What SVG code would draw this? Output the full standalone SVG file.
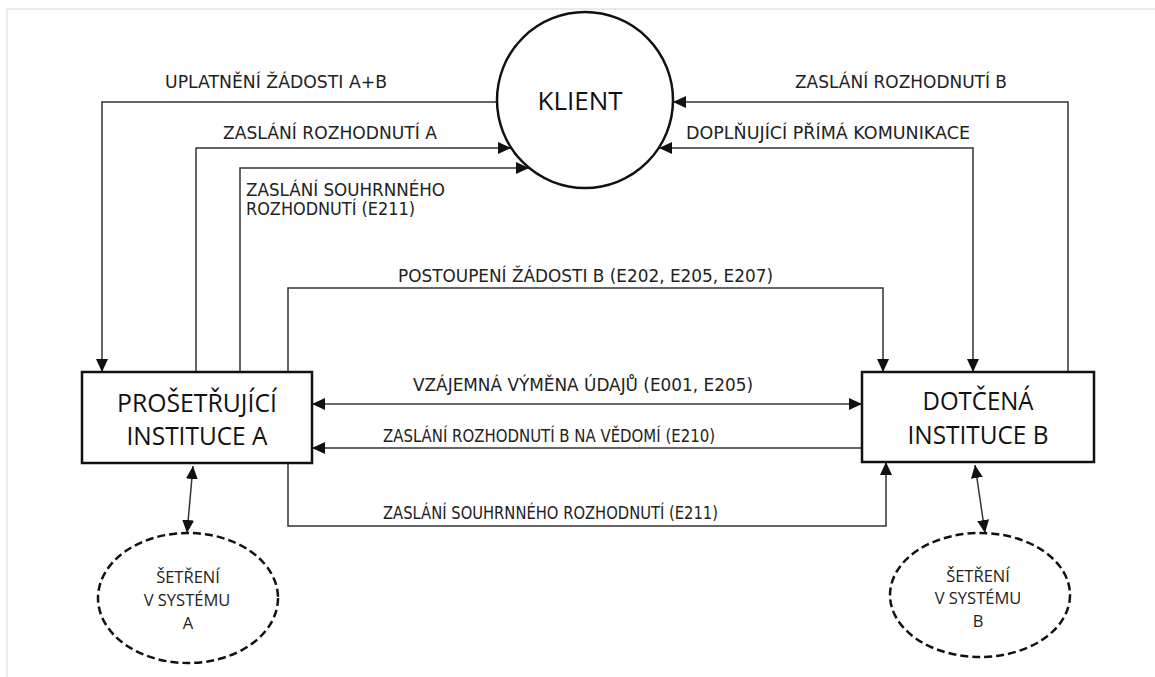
<svg xmlns="http://www.w3.org/2000/svg" width="1155" height="677" viewBox="0 0 1155 677">
<defs>
<marker id="ah" markerUnits="userSpaceOnUse" markerWidth="14" markerHeight="12" refX="13" refY="6" orient="auto-start-reverse">
<path d="M0,0 L13,6 L0,12 Z" fill="#111"/>
</marker>
<style>
.c{fill:none;stroke:#333;stroke-width:1.5}
.lb{font-family:"DejaVu Sans",sans-serif;font-size:18px;fill:#222}
.bt{font-family:"Open Sans","Liberation Sans",sans-serif;font-size:25px;fill:#111;text-anchor:middle}
.et{font-family:"Open Sans","Liberation Sans",sans-serif;font-size:16.5px;fill:#222;text-anchor:middle}
.box{fill:#fff;stroke:#111;stroke-width:2.5}
.ell{fill:#fff;stroke:#111;stroke-width:2.5;stroke-dasharray:8 4}
</style>
</defs>
<rect width="1155" height="677" fill="#fff"/>
<path d="M7,677 V9 H1155" fill="none" stroke="#e4e4e4" stroke-width="1.5"/>

<g id="connectors">
<path class="c" d="M497,102 H102 V372" marker-end="url(#ah)"/>
<path class="c" d="M196,372 V148 H511" marker-end="url(#ah)"/>
<path class="c" d="M240,372 V168 H529" marker-end="url(#ah)"/>
<path class="c" d="M1068,372 V102 H673" marker-end="url(#ah)"/>
<path class="c" d="M973,372 V148 H659" marker-start="url(#ah)" marker-end="url(#ah)"/>
<path class="c" d="M288,372 V288 H883 V372" marker-end="url(#ah)"/>
<path class="c" d="M312,404 H862" marker-start="url(#ah)" marker-end="url(#ah)"/>
<path class="c" d="M862,448 H312" marker-end="url(#ah)"/>
<path class="c" d="M288,463 V526 H886 V462" marker-end="url(#ah)"/>
<path class="c" d="M193,466 L187,533" marker-start="url(#ah)" marker-end="url(#ah)"/>
<path class="c" d="M975,465 L985,533" marker-start="url(#ah)" marker-end="url(#ah)"/>
</g>

<g id="labels">
<text class="lb" x="165" y="88" textLength="222" lengthAdjust="spacingAndGlyphs">UPLATNĚNÍ ŽÁDOSTI A+B</text>
<text class="lb" x="223" y="139" textLength="214" lengthAdjust="spacingAndGlyphs">ZASLÁNÍ ROZHODNUTÍ A</text>
<text class="lb" x="246" y="196" textLength="199" lengthAdjust="spacingAndGlyphs">ZASLÁNÍ SOUHRNNÉHO</text>
<text class="lb" x="246" y="215" textLength="169" lengthAdjust="spacingAndGlyphs">ROZHODNUTÍ (E211)</text>
<text class="lb" x="795" y="88" textLength="212" lengthAdjust="spacingAndGlyphs">ZASLÁNÍ ROZHODNUTÍ B</text>
<text class="lb" x="686" y="139" textLength="284" lengthAdjust="spacingAndGlyphs">DOPLŇUJÍCÍ PŘÍMÁ KOMUNIKACE</text>
<text class="lb" x="398" y="282" textLength="375" lengthAdjust="spacingAndGlyphs">POSTOUPENÍ ŽÁDOSTI B (E202, E205, E207)</text>
<text class="lb" x="413" y="391" textLength="340" lengthAdjust="spacingAndGlyphs">VZÁJEMNÁ VÝMĚNA ÚDAJŮ (E001, E205)</text>
<text class="lb" x="383" y="442" textLength="332" lengthAdjust="spacingAndGlyphs">ZASLÁNÍ ROZHODNUTÍ B NA VĚDOMÍ (E210)</text>
<text class="lb" x="383" y="519" textLength="335" lengthAdjust="spacingAndGlyphs">ZASLÁNÍ SOUHRNNÉHO ROZHODNUTÍ (E211)</text>
</g>

<g id="klient">
<circle cx="585" cy="100" r="88" fill="#fff" stroke="#111" stroke-width="2.5"/>
<text class="bt" x="580" y="110" font-size="24" textLength="85" lengthAdjust="spacingAndGlyphs">KLIENT</text>
</g>

<g id="instituce-a">
<rect class="box" x="82" y="372" width="230" height="91"/>
<text class="bt" x="197" y="412" textLength="160" lengthAdjust="spacingAndGlyphs">PROŠETŘUJÍCÍ</text>
<text class="bt" x="197" y="445" textLength="141" lengthAdjust="spacingAndGlyphs">INSTITUCE A</text>
</g>

<g id="instituce-b">
<rect class="box" x="862" y="372" width="232" height="90"/>
<text class="bt" x="978" y="410" textLength="111" lengthAdjust="spacingAndGlyphs">DOTČENÁ</text>
<text class="bt" x="978" y="444" textLength="141" lengthAdjust="spacingAndGlyphs">INSTITUCE B</text>
</g>

<g id="system-a">
<ellipse class="ell" cx="188" cy="598" rx="90" ry="65"/>
<text class="et" x="188" y="583">ŠETŘENÍ</text>
<text class="et" x="187" y="606">V SYSTÉMU</text>
<text class="et" x="188" y="629">A</text>
</g>

<g id="system-b">
<ellipse class="ell" cx="980" cy="595" rx="90" ry="62"/>
<text class="et" x="978" y="582">ŠETŘENÍ</text>
<text class="et" x="978" y="604">V SYSTÉMU</text>
<text class="et" x="978" y="627">B</text>
</g>
</svg>
